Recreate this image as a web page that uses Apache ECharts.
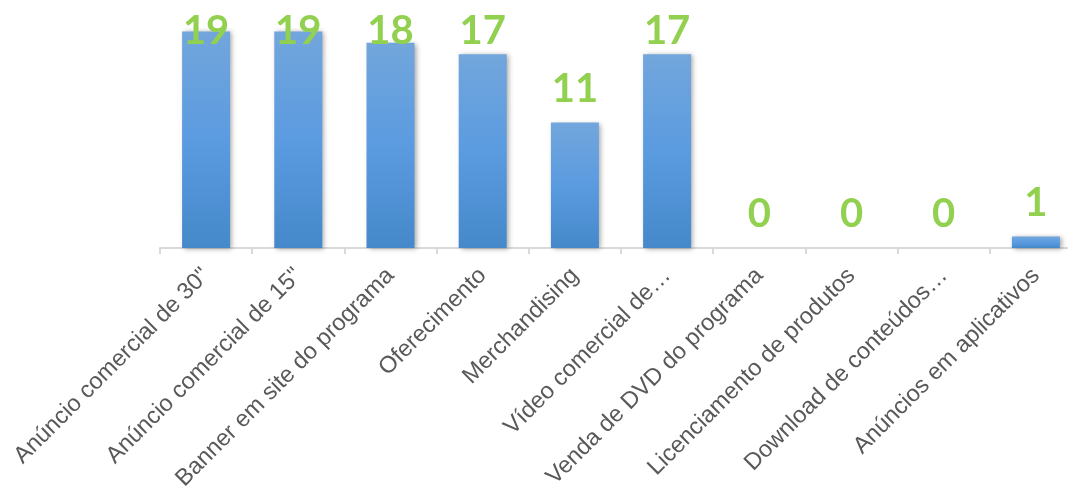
<!DOCTYPE html>
<html><head><meta charset="utf-8">
<script src="https://cdn.jsdelivr.net/npm/echarts@6/dist/echarts.min.js"></script>
<style>html,body{margin:0;padding:0;background:#fff;overflow:hidden}#c{width:1082px;height:497px}</style>
</head><body><div id="c"></div>
<script>
const categories = ['Anúncio comercial de 30"', 'Anúncio comercial de 15"', 'Banner em site do programa', 'Oferecimento', 'Merchandising', 'Vídeo comercial de…', 'Venda de DVD do programa', 'Licenciamento de produtos', 'Download de conteúdos…', 'Anúncios em aplicativos'];
const values = [19, 19, 18, 17, 11, 17, 0, 0, 0, 1];

const chart = echarts.init(document.getElementById('c'), null, {renderer: 'canvas'});
const barColor = new echarts.graphic.LinearGradient(0, 0, 0, 1, [
  {offset: 0, color: '#72a6dc'},
  {offset: 0.5, color: '#5b9be0'},
  {offset: 1, color: '#4589ca'}
]);
function buildData(offsets) {
  return values.map((v, i) => ({
    value: v,
    label: {offset: [0, offsets ? offsets[i] : 0]}
  }));
}
const option = {
  animation: false,
  grid: {left: 160, right: 0, top: 20, bottom: 249, containLabel: false},
  xAxis: {
    type: 'category', data: categories,
    axisLine: {lineStyle: {color: '#d9d9d9', width: 2}},
    axisTick: {show: true, length: 6, lineStyle: {color: '#d9d9d9', width: 2}},
    axisLabel: {rotate: 45, interval: 0, margin: 24, color: '#595959', fontFamily: 'Liberation Sans, Arial', fontSize: 23.5}
  },
  yAxis: {type: 'value', min: 0, max: 20, show: false, splitLine: {show: false}},
  series: [{
    type: 'bar', barWidth: 48, data: buildData(null),
    itemStyle: {color: barColor, shadowColor: 'rgba(0,0,0,0.35)', shadowBlur: 5, shadowOffsetX: 2, shadowOffsetY: 1},
    label: {show: true, position: 'top', distance: 14, color: '#92d050', fontFamily: 'Lato', fontWeight: 'bold', fontSize: 40}
  }]
};
chart.setOption(option);
// clamp labels to the top of the plot like the original
const minCenter = 31;
const offsets = values.map((v, i) => {
  const top = chart.convertToPixel({gridIndex: 0}, [i, v])[1];
  const center = top - 14 - 20;
  return center < minCenter ? minCenter - center : 0;
});
chart.setOption({series: [{data: buildData(offsets)}]});
</script></body></html>
